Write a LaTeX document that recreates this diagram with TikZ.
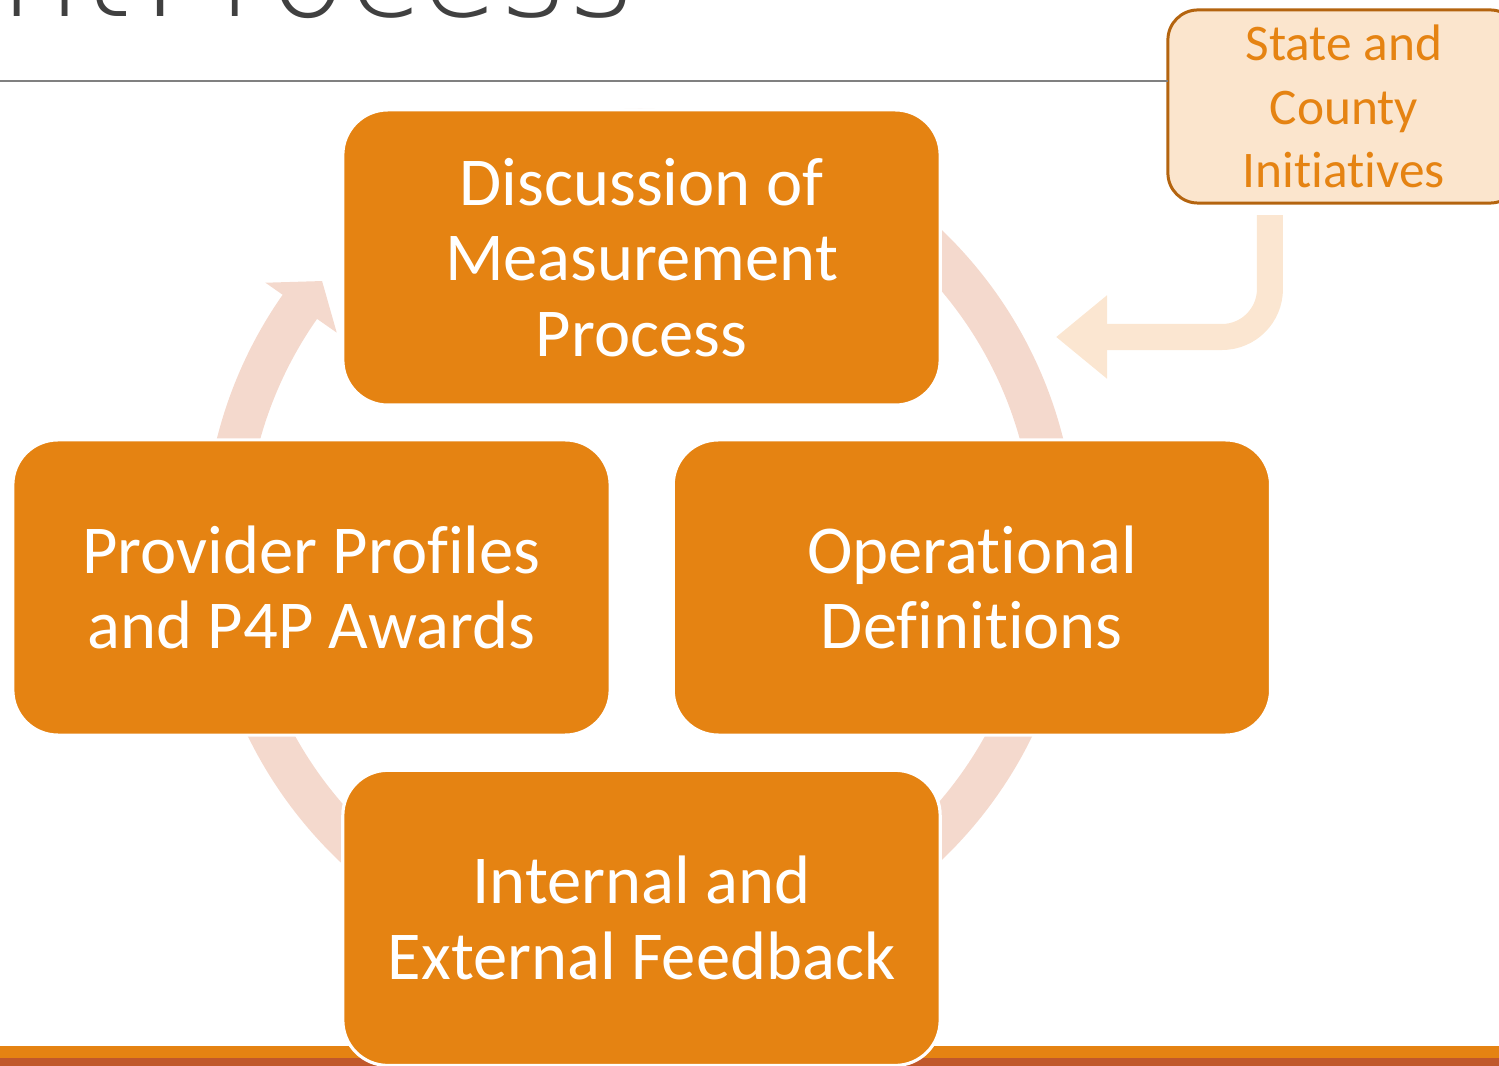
\documentclass[tikz,border=0pt]{standalone}
\usepackage{fontspec}
\setmainfont[Ligatures={NoCommon,NoRequired,NoContextual}]{Carlito}
\newfontfamily\titlefont{DejaVu Sans ExtraLight}
\usetikzlibrary{arrows.meta,positioning,calc}
\definecolor{stepfill}{HTML}{E58312}
\definecolor{ringcol}{HTML}{F4D9CD}
\definecolor{notefill}{HTML}{FBE5CD}
\definecolor{noteline}{HTML}{B4640F}
\definecolor{feedcol}{HTML}{FBE6D1}
\definecolor{titlegray}{HTML}{404040}
\definecolor{rulegray}{HTML}{808080}
\definecolor{barbrown}{HTML}{C0582B}

\begin{document}
\begin{tikzpicture}[
        x=0.01cm, y=0.01cm,
        stage/.style={rectangle,rounded corners=0.45cm,fill=stepfill,draw=white,line width=0.9pt,
            outer sep=0pt,inner sep=0pt,minimum width=5.97cm,minimum height=2.95cm,align=center,
            text=white,font=\fontsize{19.5}{21.5}\selectfont},
        note/.style={rectangle,rounded corners=0.3cm,fill=notefill,draw=noteline,line width=0.85pt,
            outer sep=0pt,inner sep=0pt,minimum width=3.52cm,minimum height=1.93cm,align=center,
            text=stepfill,font=\fontsize{14.6}{18.1}\selectfont},
        ring/.style={ringcol,line width=0.42cm},
        feed/.style={feedcol,line width=0.26cm,rounded corners=0.48cm,-{Triangle[length=0.51cm,width=0.80cm]}}
    ]
        \useasboundingbox (0,0) rectangle (1499,1066);

        % heading, rule and footer bars
        \node[anchor=base east,inner sep=0pt,text=titlegray,font=\titlefont\fontsize{37}{44}\selectfont]
            (title) at (636,1049) {ment\hspace{-0.25em} Process};
        \node[note] (state) at (1344,959.5) {State and\\County\\Initiatives};
        \draw[rulegray,line width=0.57pt] (0,985) -- (0,985 -| state.west);
        \fill[stepfill] (0,8) rectangle (1499,20);
        \fill[barbrown] (0,0) rectangle (1499,8);

        % cycle ring with its head
        \coordinate (hub) at (640,521);
        \draw[ring] ($(hub)+(132:4.15cm)$) arc[start angle=132,end angle=-216,radius=4.15cm];
        \fill[ringcol] ($(hub)+(145:4.57cm)$) -- ($(hub)+(140.3:4.13cm)$) -- ($(hub)+(145:3.70cm)$) -- cycle;

        % the four stages
        \node[stage] (disc) at (641.5,808.5) {Discussion of\\Measurement\\Process};
        \node[stage] (prof) at (311.5,478.5) {Provider Profiles\\and P4P Awards};
        \node[stage, right=0.63cm of prof] (oper) {Operational\\Definitions};
        \node[stage, below=3.65cm of disc] (feedb) {Internal and\\External Feedback};

        % outside input
        \coordinate (inlet) at (1056,729);
        \draw[feed] ([xshift=-0.74cm,yshift=-0.12cm]state.south) |- (inlet);
    \end{tikzpicture}
\end{document}
